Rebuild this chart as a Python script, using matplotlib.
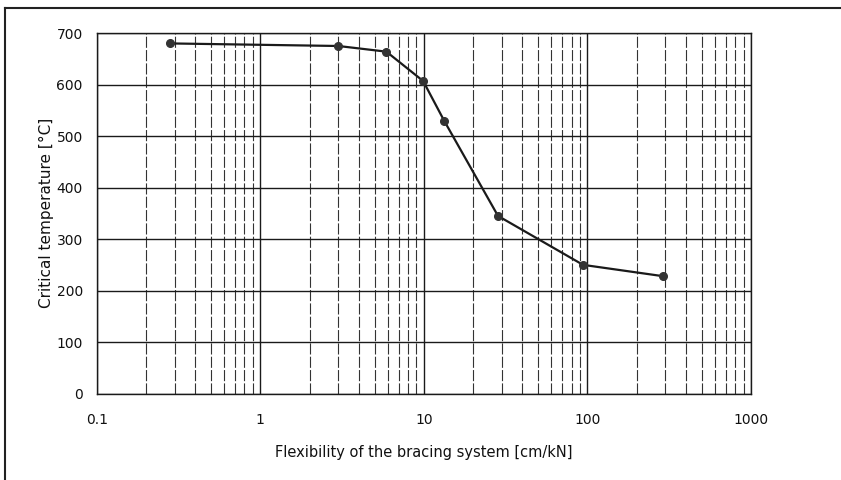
import matplotlib
matplotlib.use("Agg")
import matplotlib.pyplot as plt
from matplotlib.ticker import LogLocator, FixedLocator, NullFormatter
from matplotlib.lines import Line2D

plt.rcParams['font.family'] = ['DejaVu Sans']

flexibility = [0.28, 3.0, 5.9, 9.9, 13.3, 28.4, 94, 290]
critical_temp = [680, 675, 664, 607, 530, 345, 250, 228]
x_ticks = [0.1, 1, 10, 100, 1000]
x_tick_labels = ["0.1", "1", "10", "100", "1000"]
y_ticks = [0, 100, 200, 300, 400, 500, 600, 700]

fig = plt.figure(figsize=(8.41, 4.8), dpi=100)
ax = fig.add_axes([0.115, 0.180, 0.778, 0.751])

ax.set_xscale('log')
ax.set_xlim(0.1, 1000)
ax.set_ylim(0, 700)

ax.xaxis.set_major_locator(FixedLocator(x_ticks))
ax.set_xticklabels(x_tick_labels)
ax.xaxis.set_minor_locator(LogLocator(base=10, subs=range(2, 10), numticks=20))
ax.xaxis.set_minor_formatter(NullFormatter())
ax.set_yticks(y_ticks)

ax.grid(which='major', axis='both', color='#1a1a1a', linewidth=1.0, linestyle='-')
ax.grid(which='minor', axis='x', color='#333333', linewidth=0.8, linestyle=(0, (10, 2)))
ax.set_axisbelow(True)

ax.tick_params(which='both', length=0)
ax.tick_params(axis='x', pad=14, labelsize=10, colors='#111111')
ax.tick_params(axis='y', pad=10, labelsize=10, colors='#111111')

for s in ax.spines.values():
    s.set_color('#1a1a1a')
    s.set_linewidth(1.0)

ax.plot(flexibility, critical_temp, color='#1a1a1a', linewidth=1.6,
        marker='o', markersize=5.5, markerfacecolor='#333333', markeredgecolor='#333333',
        zorder=5)

ax.set_xlabel('Flexibility of the bracing system [cm/kN]', fontsize=10.5, color='#111111', labelpad=13)
ax.set_ylabel('Critical temperature [°C]', fontsize=11, color='#111111', labelpad=2)

# outer frame (top and left edges visible)
fig.add_artist(Line2D([5/841, 1.0], [1 - 8/480, 1 - 8/480], transform=fig.transFigure,
                      color='#222222', linewidth=1.5))
fig.add_artist(Line2D([5/841, 5/841], [0.0, 1 - 8/480], transform=fig.transFigure,
                      color='#222222', linewidth=1.5))

fig.savefig('out.png', dpi=100)
